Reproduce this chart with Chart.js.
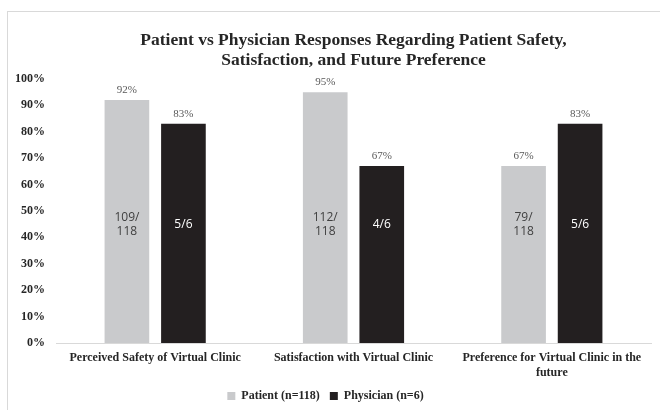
<!DOCTYPE html>
<html>
<head>
<meta charset="utf-8">
<script src="https://cdn.jsdelivr.net/npm/chart.js@4"></script>
<style>
  html, body { margin: 0; padding: 0; background: #fff; }
  #wrap { width: 660px; height: 410px; position: relative; }
</style>
</head>
<body>
<div id="wrap"><canvas id="barChart" width="660" height="410"></canvas></div>
<script>
// categories + values
let categories = [
  "Perceived Safety of Virtual Clinic",
  "Satisfaction with Virtual Clinic",
  ["Preference for Virtual Clinic in the", "future"],
];
let patientPct = [92, 95, 67];
let physicianPct = [83, 67, 83];
let patientCounts = [["109/", "118"], ["112/", "118"], ["79/", "118"]];
let physicianCounts = [["5/6"], ["4/6"], ["5/6"]];
let yTicks = [0, 10, 20, 30, 40, 50, 60, 70, 80, 90, 100];

let serif = "'Liberation Serif', 'Times New Roman', serif";
let countLevel = 45; // where the n/N labels sit (in % units)

// light frame round the chart
let framePlugin = {
  id: "frame",
  beforeDraw(chart) {
    let ctx = chart.ctx;
    ctx.save();
    ctx.fillStyle = "#fff";
    ctx.fillRect(0, 0, chart.width, chart.height);
    ctx.strokeStyle = "#d9d9d9";
    ctx.lineWidth = 1;
    ctx.strokeRect(7.5, 11.5, 700, 500);
    ctx.restore();
  },
};

// percent labels above bars, counts inside bars
let labelPlugin = {
  id: "barLabels",
  afterDatasetsDraw(chart) {
    let ctx = chart.ctx;
    let yScale = chart.scales.y;
    ctx.save();
    ctx.textAlign = "center";
    ctx.textBaseline = "middle";
    chart.data.datasets.forEach((ds, di) => {
      let meta = chart.getDatasetMeta(di);
      let counts = di === 0 ? patientCounts : physicianCounts;
      meta.data.forEach((bar, i) => {
        ctx.font = "11px " + serif;
        ctx.fillStyle = "#595959";
        ctx.fillText(ds.data[i] + "%", bar.x, bar.y - 10);

        ctx.font = "12px 'Open Sans', 'Liberation Sans', sans-serif";
        ctx.fillStyle = di === 0 ? "#404040" : "#ffffff";
        let lines = counts[i];
        let mid = yScale.getPixelForValue(countLevel);
        let lh = 14;
        lines.forEach((t, k) => {
          ctx.fillText(t, bar.x, mid + (k - (lines.length - 1) / 2) * lh);
        });
      });
    });
    ctx.restore();
  },
};

new Chart(document.getElementById("barChart"), {
  type: "bar",
  data: {
    labels: categories,
    datasets: [
      {
        label: "Patient (n=118)",
        data: patientPct,
        backgroundColor: "#c9cacc",
      },
      {
        label: "Physician (n=6)",
        data: physicianPct,
        backgroundColor: "#231f20",
      },
    ],
  },
  options: {
    responsive: false,
    animation: false,
    categoryPercentage: 0.57,
    barPercentage: 0.79,
    layout: {
      padding: { left: 0, right: 9, top: 0, bottom: -2 },
    },
    plugins: {
      title: {
        display: true,
        fullSize: false,
        text: [
          "Patient vs Physician Responses Regarding Patient Safety,",
          "Satisfaction, and Future Preference",
        ],
        color: "#262626",
        font: { family: serif, size: 17.5, weight: "bold", lineHeight: 1.17 },
        padding: { top: 30, bottom: 8 },
      },
      legend: {
        position: "bottom",
        labels: {
          boxWidth: 8,
          boxHeight: 8,
          color: "#262626",
          font: { family: serif, size: 12, weight: "bold" },
          padding: 10,
        },
      },
      tooltip: { enabled: false },
    },
    scales: {
      x: {
        afterFit(scale) {
          scale.height = 37;
        },
        grid: { display: false, drawTicks: false },
        border: { display: true, color: "#d9d9d9" },
        ticks: {
          color: "#262626",
          font: { family: serif, size: 12, weight: "bold" },
          padding: 8,
          maxRotation: 0,
        },
      },
      y: {
        min: 0,
        max: 100,
        afterFit(scale) {
          scale.width = 56;
        },
        afterBuildTicks(scale) {
          scale.ticks = yTicks.map((v) => ({ value: v }));
        },
        grid: { display: false, drawTicks: false },
        border: { display: false },
        ticks: {
          padding: 11,
          color: "#262626",
          font: { family: serif, size: 12, weight: "bold" },
          callback: (v) => v + "%",
        },
      },
    },
  },
  plugins: [framePlugin, labelPlugin],
});
</script>
</body>
</html>
